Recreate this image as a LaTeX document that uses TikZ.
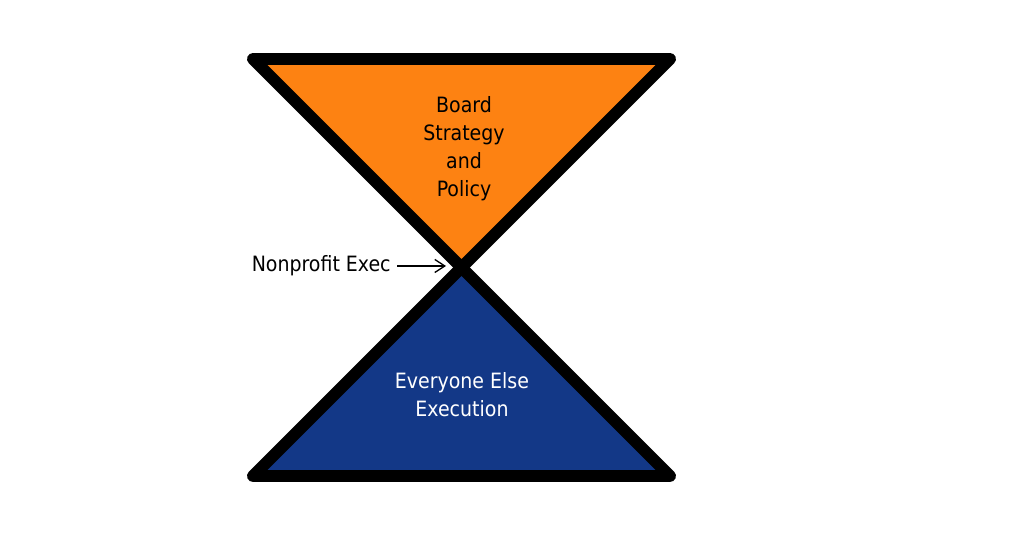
\documentclass[tikz,border=0pt]{standalone}
\usepackage{fontspec}
\setmainfont{DejaVu Sans Condensed}
\RequirePackage{tikz}
\RequirePackage{tkz-euclide}
\usetikzlibrary{calc}
\usetikzlibrary{arrows.meta}

\definecolor{boardorange}{RGB}{253,130,18}
\definecolor{staffblue}{RGB}{19,56,135}

\begin{document}
\begin{tikzpicture}[
    edge/.style={line width=6.8pt,line join=round,draw=black},
    lbl/.style={font=\fontsize{12}{15.9}\selectfont,align=center,inner sep=0pt}
  ]
                    \useasboundingbox (0,0) rectangle (20.48,10.72);

                    \tkzDefPoint(5.06,9.54){T1}
                    \tkzDefPoint(13.40,9.54){T2}
                    \tkzDefPoint(9.23,5.37){M}
                    \tkzDefPoint(5.06,1.20){B1}
                    \tkzDefPoint(13.40,1.20){B2}

                    \tkzDrawPolygon[edge,fill=boardorange](T1,T2,M)
                    \tkzDrawPolygon[edge,fill=staffblue](M,B2,B1)

                    \node[lbl,text=black] (board) at (9.28,7.74)
                      {Board\\Strategy\\and\\Policy};
                    \node[lbl,text=white] (everyone) at (9.24,2.82)
                      {Everyone Else\\Execution};

                    \node[lbl,anchor=east] (exec) at (7.82,5.40) {Nonprofit Exec};
                    \tkzDefPoint(8.92,5.40){X}
                    \draw[line width=0.75pt,-{Straight Barb[length=0.2cm,width=0.26cm]}]
                      (exec.east) ++(0.12,0) -- (X);
                \end{tikzpicture}
\end{document}
